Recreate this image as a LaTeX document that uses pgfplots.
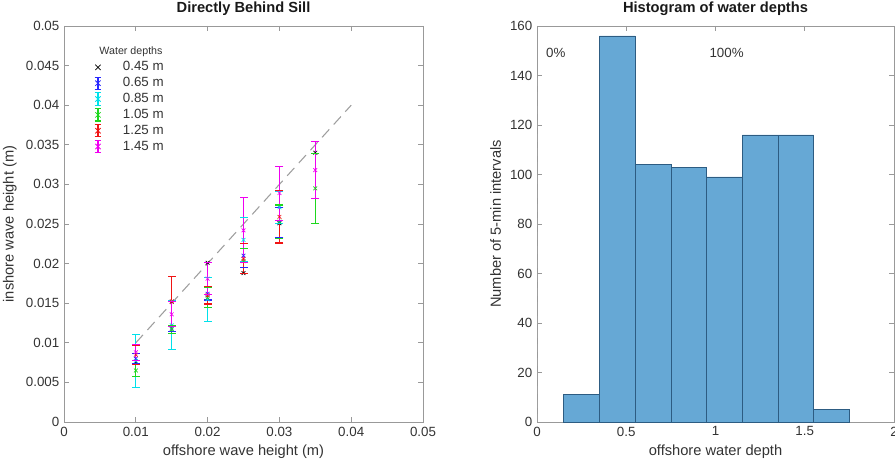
\documentclass[border=0pt]{standalone}
\usepackage{pgfplots}
\pgfplotsset{compat=1.18}
\usepackage{fontspec}
\setmainfont{Liberation Sans}
\definecolor{axgray}{gray}{0.6}
\definecolor{txtgray}{gray}{0.2}
\definecolor{barfill}{RGB}{102,168,213}
\definecolor{baredge}{RGB}{45,92,130}
\definecolor{dashgray}{gray}{0.62}
\definecolor{cblue}{RGB}{40,40,255}
\definecolor{ccyan}{RGB}{0,225,235}
\definecolor{cgreen}{RGB}{30,215,30}
\definecolor{cred}{RGB}{240,20,20}
\definecolor{cmag}{RGB}{240,0,240}
\pgfplotstableread{
x lo hi
0.01 0.0074 0.0086
nan nan nan
0.015 0.0114 0.0122
nan nan nan
0.02 0.0154 0.0170
nan nan nan
0.025 0.0195 0.0225
nan nan nan
0.03 0.0233 0.0271
}\eblue
\pgfplotstableread{
x lo hi
0.01 0.0044 0.0110
nan nan nan
0.015 0.0091 0.0153
nan nan nan
0.02 0.0127 0.0183
nan nan nan
0.025 0.0202 0.0258
nan nan nan
0.03 0.0251 0.0291
}\ecyan
\pgfplotstableread{
x lo hi
0.01 0.0057 0.0073
nan nan nan
0.015 0.0112 0.0122
nan nan nan
0.02 0.0144 0.0170
nan nan nan
0.025 0.0187 0.0219
nan nan nan
0.03 0.0232 0.0274
nan nan nan
0.035 0.0251 0.0339
}\egreen
\pgfplotstableread{
x lo hi
0.01 0.0073 0.0097
nan nan nan
0.015 0.0120 0.0184
nan nan nan
0.02 0.0149 0.0171
nan nan nan
0.025 0.0187 0.0225
nan nan nan
0.03 0.0226 0.0292
}\ered
\pgfplotstableread{
x lo hi
0.01 0.0078 0.0098
nan nan nan
0.015 0.0120 0.0152
nan nan nan
0.02 0.0161 0.0201
nan nan nan
0.025 0.0201 0.0283
nan nan nan
0.03 0.0255 0.0323
nan nan nan
0.035 0.0282 0.0354
}\emag
\pgfplotsset{
  mstyle/.style={
    scale only axis,
    axis line style={axgray, line width=0.5pt},
    tick style={axgray, line width=0.5pt},
    tick align=inside,
    major tick length=3.5pt,
    ticklabel style={text=txtgray, font=\fontsize{10}{12}\selectfont},
    label style={text=txtgray, font=\fontsize{11}{13}\selectfont},
    title style={text=black!90, font=\bfseries\fontsize{11}{13}\selectfont, at={(0.5,1)}, anchor=base, yshift=3.8pt},
    /pgf/number format/assume math mode=true,
    scaled ticks=false,
  },
  errleg/.style={legend image code/.code={%
    \draw[draw=#1,solid,line width=0.8pt] (0pt,-4.6pt)--(0pt,4.6pt) (-2.5pt,-4.6pt)--(2.5pt,-4.6pt) (-2.5pt,4.6pt)--(2.5pt,4.6pt);
    \draw[draw=#1,solid,line width=0.6pt] (-2pt,-2pt)--(2pt,2pt) (-2pt,2pt)--(2pt,-2pt);}},
  markleg/.style={legend image code/.code={%
    \draw[draw=#1,solid,line width=0.6pt] (-2pt,-2pt)--(2pt,2pt) (-2pt,2pt)--(2pt,-2pt);}},
}
\newcommand{\errbars}[2]{%
  \addplot[draw=#1, line width=0.8pt, mark=none, forget plot] table[x=x, y=lo] {#2};
  \addplot[draw=#1, line width=0.8pt, mark=none, forget plot] table[x=x, y=hi] {#2};
}
\begin{document}
\begin{tikzpicture}[x=1pt,y=1pt]
\useasboundingbox (0,0) rectangle (671.25,345);
\begin{axis}[mstyle,
  at={(48pt,28.5pt)}, anchor=south west,
  width=269.25pt, height=297pt,
  xmin=0, xmax=0.05, ymin=0, ymax=0.05,
  xtick={0,0.01,0.02,0.03,0.04,0.05},
  ytick={0,0.005,0.01,0.015,0.02,0.025,0.03,0.035,0.04,0.045,0.05},
  xticklabels={0,0.01,0.02,0.03,0.04,0.05},
  yticklabels={0,0.005,0.01,0.015,0.02,0.025,0.03,0.035,0.04,0.045,0.05},
  xlabel={offshore wave height (m)},
  ylabel={inshore wave height (m)},
  title={Directly Behind Sill},
  legend style={at={(axis cs:0.0036,0.0460)}, anchor=north west, draw=none, fill=none,
    font=\fontsize{10}{11}\selectfont, text=txtgray, row sep=1.8pt, column sep=15pt,
    nodes={inner sep=0.8pt}},
  legend cell align=left,
  unbounded coords=jump,
]
\addplot[dashgray, dashed, dash pattern=on 8pt off 5pt, line width=0.8pt, forget plot]
  coordinates {(0.01,0.01) (0.04,0.04)};
% 0.45 m
\addplot[black, only marks, mark=x, mark size=2pt, line width=0.5pt, markleg=black]
  coordinates {(0.01,0.0076) (0.015,0.0152) (0.02,0.0201) (0.025,0.0188) (0.03,0.0251) (0.035,0.0340)};
\addlegendentry{0.45 m}
% 0.65 m
\addplot[draw=cblue, line width=0.8pt, mark=none, forget plot] coordinates {
  (0.01,0.0074) (0.01,0.0086) (nan,nan)
  (0.015,0.0114) (0.015,0.0122) (nan,nan)
  (0.02,0.0154) (0.02,0.0170) (nan,nan)
  (0.025,0.0195) (0.025,0.0225) (nan,nan)
  (0.03,0.0233) (0.03,0.0271)};
\addplot[cblue, only marks, mark=-, mark size=3pt, line width=0.8pt, forget plot] table[x=x, y=lo] {\eblue};
\addplot[cblue, only marks, mark=-, mark size=3pt, line width=0.8pt, forget plot] table[x=x, y=hi] {\eblue};
\addplot[cblue, only marks, mark=x, mark size=2pt, line width=0.5pt, errleg=cblue] coordinates {
  (0.01,0.0080) (0.015,0.0118) (0.02,0.0162) (0.025,0.0210) (0.03,0.0252)};
\addlegendentry{0.65 m}
% 0.85 m
\addplot[draw=ccyan, line width=0.8pt, mark=none, forget plot] coordinates {
  (0.01,0.0044) (0.01,0.0110) (nan,nan)
  (0.015,0.0091) (0.015,0.0153) (nan,nan)
  (0.02,0.0127) (0.02,0.0183) (nan,nan)
  (0.025,0.0202) (0.025,0.0258) (nan,nan)
  (0.03,0.0251) (0.03,0.0291)};
\addplot[ccyan, only marks, mark=-, mark size=3pt, line width=0.8pt, forget plot] table[x=x, y=lo] {\ecyan};
\addplot[ccyan, only marks, mark=-, mark size=3pt, line width=0.8pt, forget plot] table[x=x, y=hi] {\ecyan};
\addplot[ccyan, only marks, mark=x, mark size=2pt, line width=0.5pt, errleg=ccyan] coordinates {
  (0.01,0.0077) (0.015,0.0122) (0.02,0.0155) (0.025,0.0230) (0.03,0.0271)};
\addlegendentry{0.85 m}
% 1.05 m
\addplot[draw=cgreen, line width=0.8pt, mark=none, forget plot] coordinates {
  (0.01,0.0057) (0.01,0.0073) (nan,nan)
  (0.015,0.0112) (0.015,0.0122) (nan,nan)
  (0.02,0.0144) (0.02,0.0170) (nan,nan)
  (0.025,0.0187) (0.025,0.0219) (nan,nan)
  (0.03,0.0232) (0.03,0.0274) (nan,nan)
  (0.035,0.0251) (0.035,0.0339)};
\addplot[cgreen, only marks, mark=-, mark size=3pt, line width=0.8pt, forget plot] table[x=x, y=lo] {\egreen};
\addplot[cgreen, only marks, mark=-, mark size=3pt, line width=0.8pt, forget plot] table[x=x, y=hi] {\egreen};
\addplot[cgreen, only marks, mark=x, mark size=2pt, line width=0.5pt, errleg=cgreen] coordinates {
  (0.01,0.0065) (0.015,0.0117) (0.02,0.0157) (0.025,0.0203) (0.03,0.0253) (0.035,0.0295)};
\addlegendentry{1.05 m}
% 1.25 m
\addplot[draw=cred, line width=0.8pt, mark=none, forget plot] coordinates {
  (0.01,0.0073) (0.01,0.0097) (nan,nan)
  (0.015,0.0120) (0.015,0.0184) (nan,nan)
  (0.02,0.0149) (0.02,0.0171) (nan,nan)
  (0.025,0.0187) (0.025,0.0225) (nan,nan)
  (0.03,0.0226) (0.03,0.0292)};
\addplot[cred, only marks, mark=-, mark size=3pt, line width=0.8pt, forget plot] table[x=x, y=lo] {\ered};
\addplot[cred, only marks, mark=-, mark size=3pt, line width=0.8pt, forget plot] table[x=x, y=hi] {\ered};
\addplot[cred, only marks, mark=x, mark size=2pt, line width=0.5pt, errleg=cred] coordinates {
  (0.01,0.0085) (0.015,0.0152) (0.02,0.0160) (0.025,0.0206) (0.03,0.0259)};
\addlegendentry{1.25 m}
% 1.45 m
\addplot[draw=cmag, line width=0.8pt, mark=none, forget plot] coordinates {
  (0.01,0.0078) (0.01,0.0098) (nan,nan)
  (0.015,0.0120) (0.015,0.0152) (nan,nan)
  (0.02,0.0161) (0.02,0.0201) (nan,nan)
  (0.025,0.0201) (0.025,0.0283) (nan,nan)
  (0.03,0.0255) (0.03,0.0323) (nan,nan)
  (0.035,0.0282) (0.035,0.0354)};
\addplot[cmag, only marks, mark=-, mark size=3pt, line width=0.8pt, forget plot] table[x=x, y=lo] {\emag};
\addplot[cmag, only marks, mark=-, mark size=3pt, line width=0.8pt, forget plot] table[x=x, y=hi] {\emag};
\addplot[cmag, only marks, mark=x, mark size=2pt, line width=0.5pt, errleg=cmag] coordinates {
  (0.01,0.0088) (0.015,0.0136) (0.02,0.0181) (0.025,0.0242) (0.03,0.0289) (0.035,0.0318)};
\addlegendentry{1.45 m}
\node[font=\fontsize{8}{9}\selectfont, text=txtgray] at (axis cs:0.00933,0.0468) {Water depths};
\end{axis}

\begin{axis}[mstyle,
  at={(402.75pt,28.5pt)}, anchor=south west,
  width=267.75pt, height=297pt,
  xmin=0, xmax=2, ymin=0, ymax=160,
  xtick={0,0.5,1,1.5,2},
  xticklabels={0,0.5,1,1.5,2},
  ytick={0,20,40,60,80,100,120,140,160},
  xlabel={offshore water depth},
  ylabel={Number of 5-min intervals},
  title={Histogram of water depths},
]
\addplot[ybar interval, fill=barfill, draw=baredge, line width=0.5pt] coordinates {
  (0.15,11) (0.35,156) (0.55,104) (0.75,103) (0.95,99) (1.15,116) (1.35,116) (1.55,5) (1.75,5)};
\addplot[dashgray, dashed, dash pattern=on 6pt off 4.5pt, line width=0.8pt] coordinates {(0,0) (0,140)};
\node[anchor=west, font=\fontsize{10}{12}\selectfont, text=txtgray] at (axis cs:0.025,149) {0\%};
\node[anchor=west, font=\fontsize{10}{12}\selectfont, text=txtgray] at (axis cs:0.94,149) {100\%};
\end{axis}
\end{tikzpicture}
\end{document}
